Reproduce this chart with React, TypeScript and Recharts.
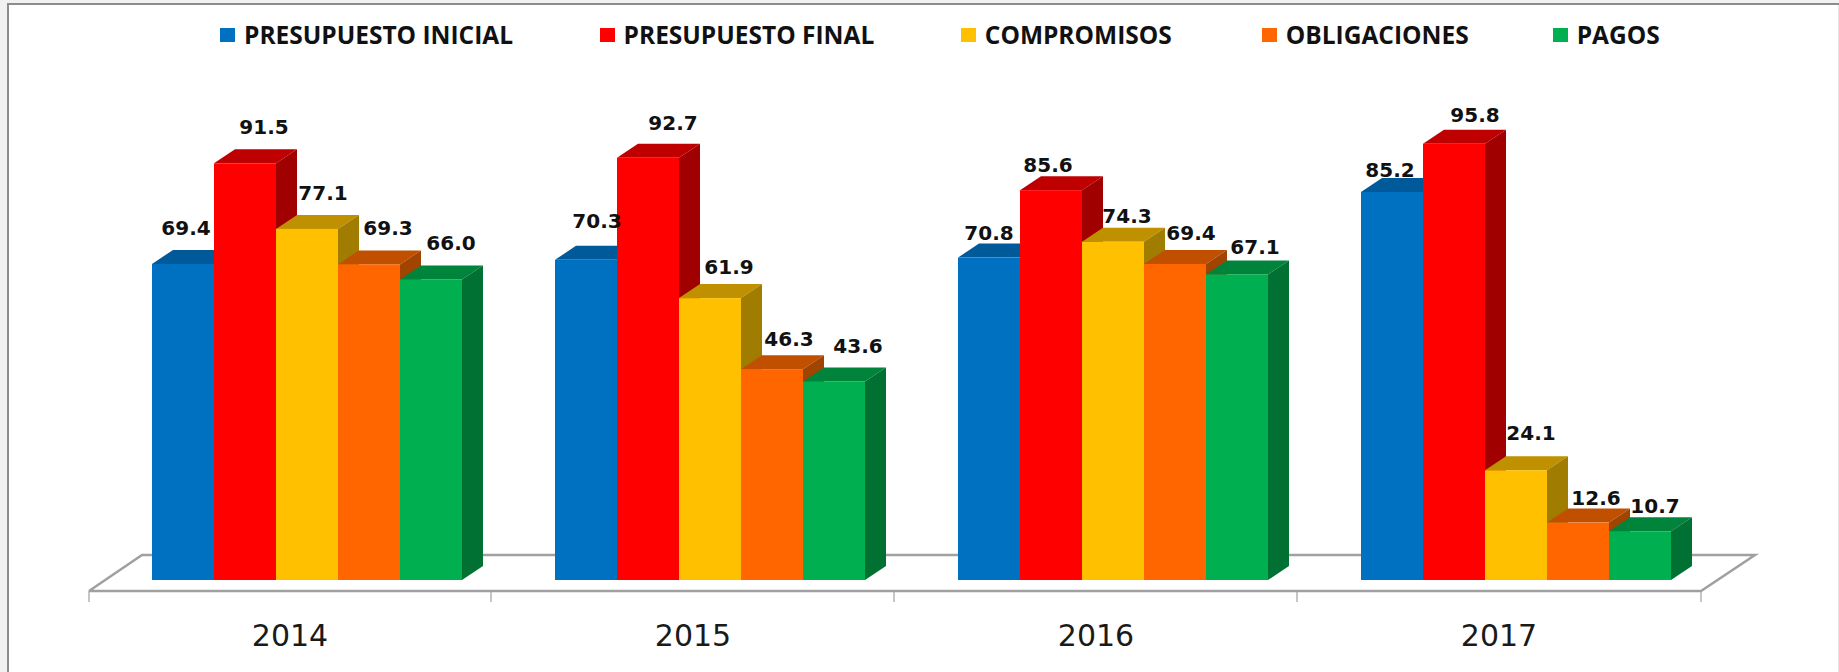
import { Bar, BarChart, Customized, LabelList, Legend, XAxis, YAxis } from "recharts"

const years = ["2014", "2015", "2016", "2017"]
const presupuestoInicial = [69.4, 70.3, 70.8, 85.2]
const presupuestoFinal = [91.5, 92.7, 85.6, 95.8]
const compromisos = [77.1, 61.9, 74.3, 24.1]
const obligaciones = [69.3, 46.3, 69.4, 12.6]
const pagos = [66.0, 43.6, 67.1, 10.7]

const data = years.map((year, i) => ({
  year,
  inicial: presupuestoInicial[i],
  final: presupuestoFinal[i],
  compromisos: compromisos[i],
  obligaciones: obligaciones[i],
  pagos: pagos[i],
}))

const series = [
  { key: "inicial", name: "PRESUPUESTO INICIAL", front: "#0070C0", top: "#005A9A", side: "#004F86" },
  { key: "final", name: "PRESUPUESTO FINAL", front: "#FF0000", top: "#BF0000", side: "#A00000" },
  { key: "compromisos", name: "COMPROMISOS", front: "#FFC000", top: "#BF9000", side: "#A07C00" },
  { key: "obligaciones", name: "OBLIGACIONES", front: "#FF6600", top: "#C04F00", side: "#A04400" },
  { key: "pagos", name: "PAGOS", front: "#00B050", top: "#00843C", side: "#007033" },
]

// where each value label sits, relative to the top centre of its bar
const labelNudges: Record<string, [number, number][]> = {
  inicial: [[3, -36], [11, -39], [0, -25], [-2, -22]],
  final: [[19, -36], [25, -35], [-3, -25], [21, -29]],
  compromisos: [[16, -36], [19, -31], [14, -26], [15, -37]],
  obligaciones: [[19, -36], [17, -30], [16, -31], [18, -25]],
  pagos: [[20, -36], [24, -35], [18, -27], [15, -25]],
}

// space left of each legend item
const legendGaps = [0, 86.5, 86.5, 90, 84]

const DEPTH_X = 21
const DEPTH_Y = 14
const AXIS_SHIFT = 17.5
const GREY = "#A0A0A0"

function Bar3D({ x, y, width, height, front, top, side }: any) {
  const r = x + width
  const b = y + height
  return (
    <g>
      <polygon points={`${x},${y} ${x + DEPTH_X},${y - DEPTH_Y} ${r + DEPTH_X},${y - DEPTH_Y} ${r},${y}`} fill={top} />
      <polygon points={`${r},${y} ${r + DEPTH_X},${y - DEPTH_Y} ${r + DEPTH_X},${b - DEPTH_Y} ${r},${b}`} fill={side} />
      <rect x={x} y={y} width={width} height={height} fill={front} />
    </g>
  )
}

function Floor() {
  return (
    <g fill="none" stroke={GREY}>
      <polyline points="89,591 142,555 1755,555 1701,591 89,591" strokeWidth={2.5} />
      {[89, 491, 894, 1297, 1701].map((x) => (
        <line key={x} x1={x} x2={x} y1={591} y2={602} strokeWidth={1.2} />
      ))}
    </g>
  )
}

function YearTick({ x, payload }: any) {
  return (
    <text x={x - AXIS_SHIFT} y={646} textAnchor="middle" fontFamily="DejaVu Sans" fontSize={30} fill="#1a1a1a">
      {payload.value}
    </text>
  )
}

function LegendRow() {
  return (
    <div style={{ display: "flex", alignItems: "center", whiteSpace: "nowrap" }}>
      {series.map((s, i) => (
        <div key={s.key} style={{ display: "flex", alignItems: "center", gap: 9, marginLeft: legendGaps[i] }}>
          <span style={{ width: 15, height: 14, background: s.front, display: "block" }} />
          <span style={{ fontFamily: "Open Sans", fontWeight: 700, fontSize: 24.5, color: "#111" }}>{s.name}</span>
        </div>
      ))}
    </div>
  )
}

function valueLabel(key: string) {
  return ({ x, y, width, value, index }: any) => {
    const [dx, dy] = labelNudges[key][index]
    return (
      <text
        x={x + width / 2 + dx}
        y={y + dy}
        textAnchor="middle"
        dominantBaseline="central"
        fontFamily="DejaVu Sans"
        fontWeight={700}
        fontSize={20}
        fill="#111"
      >
        {Number(value).toFixed(1)}
      </text>
    )
  }
}

export default function App() {
  return (
    <div style={{ position: "absolute", left: 0, top: 0, width: 1839, height: 672, background: "#F1F1F1", overflow: "hidden" }}>
      <div
        style={{
          position: "absolute",
          left: 7,
          top: 3,
          width: 1839,
          height: 672,
          background: "#fff",
          borderLeft: "2px solid #8C8C8C",
          borderTop: "2px solid #8C8C8C",
        }}
      />
      <div style={{ position: "absolute", left: 1838, top: 5, width: 1, height: 667, background: "#E4E4E4" }} />
      <div style={{ position: "absolute", left: 0, top: 0 }}>
        <BarChart
          width={1839}
          height={672}
          data={data}
          margin={{ top: 124.6, right: 121, bottom: 32, left: 106 }}
          barCategoryGap={46}
          barGap={0}
        >
          <Customized component={<Floor />} />
          <XAxis dataKey="year" axisLine={false} tickLine={false} height={60} tick={<YearTick />} interval={0} />
          <YAxis hide domain={[0, 100]} />
          <Legend
            layout="horizontal"
            verticalAlign="middle"
            align="center"
            content={<LegendRow />}
            wrapperStyle={{ top: 18, left: 220, width: 1500, height: 34 }}
          />
          {series.map((s) => (
            <Bar
              key={s.key}
              dataKey={s.key}
              name={s.name}
              isAnimationActive={false}
              shape={(props: any) => <Bar3D {...props} front={s.front} top={s.top} side={s.side} />}
            >
              <LabelList dataKey={s.key} content={valueLabel(s.key)} />
            </Bar>
          ))}
        </BarChart>
      </div>
    </div>
  )
}
